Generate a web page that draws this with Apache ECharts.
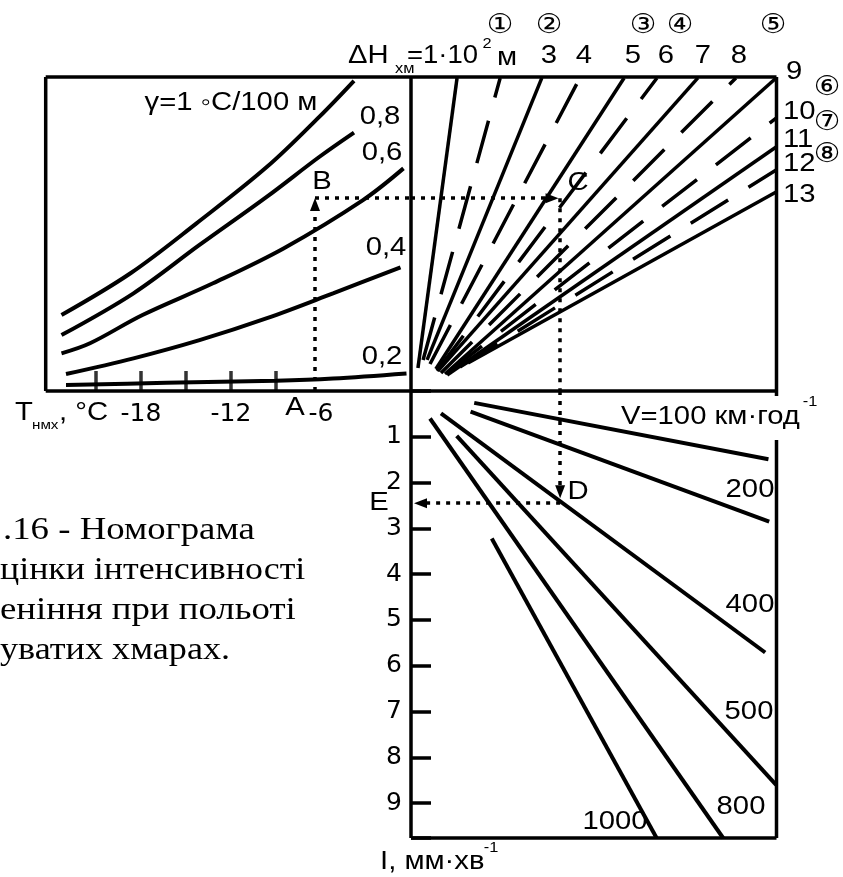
<!DOCTYPE html>
<html>
<head>
<meta charset="utf-8">
<script src="https://cdn.jsdelivr.net/npm/echarts@6/dist/echarts.min.js"></script>
<style>html,body{margin:0;padding:0;background:#fff}#chart{width:843px;height:877px}</style>
</head>
<body>
<div id="chart"></div>
<script>
// ліва панель: температура нижньої межі хмар (°C) та градієнт γ
var tempTicks = [-21, -18, -15, -12, -9];
var tempLabels = [-18, -12, -6];
var gammaNames = ['1', '0,8', '0,6', '0,4', '0,2'];
var gamma10 = [[-23.3, 24.2], [-18.7, 37.5], [-14.3, 53.4], [-9.6, 71.4], [-6.1, 87.4], [-3.8, 98.8]];
var gamma08 = [[-23.3, 17.8], [-18.5, 31.1], [-14.1, 46.5], [-9.6, 61.9], [-6.1, 74.6], [-3.8, 82.3]];
var gamma06 = [[-23.3, 12.0], [-21.4, 15.2], [-17.9, 24.2], [-13.2, 34.3], [-8.5, 45.4], [-3.2, 60.8], [-0.5, 70.9]];
var gamma04 = [[-23.0, 5.4], [-18.5, 10.4], [-14.1, 16.2], [-9.6, 23.2], [-5.2, 31.1], [-0.7, 39.4]];
var gamma02 = [[-23.0, 1.9], [-16.3, 2.6], [-9.0, 3.3], [-5.2, 4.0], [-0.3, 5.6]];

// права верхня панель: товщина хмар ΔH, x100 м (парні - штрихові)
var dhValues = [1, 2, 3, 4, 5, 6, 7, 8, 9, 10, 11, 12, 13];
var dhStart = [[1.9, 7.3], [3.3, 9.9], [4.4, 9.9], [5.2, 8.6], [6.8, 7.0], [7.1, 6.4], [7.4, 6.4],
               [8.2, 5.7], [9.3, 5.4], [9.9, 5.7], [9.9, 5.1], [13.4, 7.6], [15.6, 8.9]];
var dhEnd = [[12.6, 99.7], [24.4, 99.7], [35.8, 99.7], [46.2, 99.7], [58.3, 99.7], [67.3, 99.7], [78.5, 99.7],
             [88.9, 99.7], [99.9, 99.7], [99.9, 86.9], [99.9, 77.7], [99.9, 70.4], [99.9, 63.4]];

// нижня панель: швидкість V, км/год, та інтенсивність I, мм/хв
var vValues = [100, 200, 400, 500, 800, 1000];
var vStart = [[17.3, 0.26], [16.3, 0.45], [8.2, 0.49], [12.5, 0.98], [5.2, 0.60], [22.1, 3.22]];
var vEnd = [[97.8, 1.49], [98.0, 2.85], [96.9, 5.71], [99.9, 8.60], [85.4, 9.76], [67.2, 9.76]];
var iTicks = [1, 2, 3, 4, 5, 6, 7, 8, 9];

// приклад: A -> B -> C -> D -> E
var tA = -6.4, yB = 61.4, xC = 38.6, xCD = 40.8, iD = 2.2, iDE = 2.45, xE = 2.6;

var chart = echarts.init(document.getElementById('chart'));
var F = '"Liberation Sans", "DejaVu Sans", Arial, sans-serif';
var FA = '"DejaVu Sans", "Liberation Sans", sans-serif';
var SERIF = '"Liberation Serif", "DejaVu Serif", serif';

function txt(x, y, s, size, align, font, sx) {
    return {
        type: 'text', x: x, y: y, silent: true, scaleX: sx || 1.17,
        style: {
            text: s, fill: '#000',
            font: size + 'px ' + (font || F),
            textAlign: align || 'center', align: align || 'center',
            textVerticalAlign: 'middle', verticalAlign: 'middle'
        }
    };
}
function seg(x1, y1, x2, y2) {
    return {
        type: 'line', silent: true,
        shape: {x1: x1, y1: y1, x2: x2, y2: y2},
        style: {stroke: '#000', lineWidth: 3.5}
    };
}
function curve(data, xi, w, dash, smooth) {
    return {
        type: 'line', xAxisIndex: xi, yAxisIndex: xi, data: data,
        symbol: 'none', smooth: smooth || false, silent: true, clip: false,
        lineStyle: {color: '#000', width: w, type: dash ? [44, 24] : 'solid'}
    };
}
function dotted(xi, lines) {
    return {
        type: 'line', xAxisIndex: xi, yAxisIndex: xi, data: [], silent: true,
        markLine: {
            silent: true, animation: false,
            symbol: ['none', 'triangle'], symbolSize: [10, 13],
            label: {show: false},
            lineStyle: {color: '#000', width: 3.5, type: [4, 6]},
            emphasis: {disabled: true},
            data: lines
        }
    };
}
function noArrow(c) { return {coord: c, symbol: 'none'}; }

var series = [];
[gamma10, gamma08, gamma06, gamma04, gamma02].forEach(function (d) {
    series.push(curve(d, 0, 4, false, 0.35));
});
series.push({
    type: 'scatter', xAxisIndex: 0, yAxisIndex: 0, silent: true, clip: false,
    data: tempTicks.map(function (t) { return [t, 0]; }),
    symbol: 'rect', symbolSize: [3.5, 20], symbolOffset: [0, -10],
    itemStyle: {color: '#000'}
});
dhValues.forEach(function (v, i) {
    series.push(curve([dhStart[i], dhEnd[i]], 1, 3.5, v % 2 === 0));
});
vValues.forEach(function (v, i) {
    series.push(curve([vStart[i], vEnd[i]], 2, 4, false));
});
series.push(dotted(0, [
    [{coord: [tA, 0]}, {coord: [tA, yB - 2]}],
    [noArrow([tA, yB]), noArrow([0, yB])]
]));
series.push(dotted(1, [
    [{coord: [0, yB]}, {coord: [xC, yB]}],
    [noArrow([xCD, yB]), noArrow([xCD, 0])]
]));
series.push(dotted(2, [
    [{coord: [xCD, 0]}, {coord: [xCD, iD]}],
    [{coord: [xCD, iDE]}, {coord: [xE, iDE]}]
]));

var graphics = [
    // рамки
    seg(45.7, 77, 776.5, 77), seg(45.7, 77, 45.7, 391), seg(45.7, 391, 776.5, 391),
    seg(411, 77, 411, 838), seg(776.5, 77, 776.5, 396), seg(776.5, 440, 776.5, 838),
    seg(411, 838, 776.5, 838),
    // верхній підпис
    txt(348, 56, 'ΔH', 25, 'left'), txt(395, 69, 'хм', 14, 'left'),
    txt(407, 56, '=1·10', 25, 'left', F, 1.1), txt(487, 44, '2', 14), txt(507, 58, 'м', 25),
    txt(549, 56, '3', 25), txt(584, 56, '4', 25), txt(633, 56, '5', 25),
    txt(666, 56, '6', 25), txt(703, 56, '7', 25), txt(739, 56, '8', 25),
    txt(786, 72, '9', 25, 'left'), txt(783, 112, '10', 25, 'left'), txt(783, 140, '11', 25, 'left'),
    txt(783, 164, '12', 25, 'left'), txt(783, 195, '13', 25, 'left'),
    txt(500, 26, '①', 27, 'center', F, 1.1), txt(549, 26, '②', 27, 'center', F, 1.1),
    txt(643, 26, '③', 27, 'center', F, 1.1), txt(680, 26, '④', 27, 'center', F, 1.1),
    txt(773, 26, '⑤', 27, 'center', F, 1.1), txt(827, 88, '⑥', 27, 'center', F, 1.1),
    txt(827, 123, '⑦', 27, 'center', F, 1.1), txt(827, 155, '⑧', 27, 'center', F, 1.1),
    // ліва панель
    txt(231, 103, 'γ=1 ◦C/100 м', 25), txt(380, 117, '0,8', 25), txt(382, 153, '0,6', 25),
    txt(386, 248, '0,4', 25), txt(382, 357, '0,2', 25),
    txt(322, 182, 'B', 25), txt(295, 408, 'A', 25),
    txt(15, 413, 'T', 25, 'left'), txt(32, 425, 'нмх', 13, 'left'), txt(59, 413, ', °C', 25, 'left'),
    // права панель
    txt(578, 183, 'C', 25), txt(578, 492, 'D', 25), txt(379, 503, 'E', 25),
    txt(621, 417, 'V=100 км·год', 25, 'left'), txt(810, 402, '-1', 14),
    txt(380, 862, 'I, мм·хв', 25, 'left'), txt(491, 848, '-1', 14),
    txt(750, 490, '200', 25), txt(750, 605, '400', 25), txt(749, 712, '500', 25),
    txt(741, 807, '800', 25), txt(615, 822, '1000', 25),
    // підпис рисунка
    txt(3, 531, '.16 - Номограма', 32, 'left', SERIF, 1.15),
    txt(0, 571, 'цінки інтенсивності', 32, 'left', SERIF, 1.12),
    txt(0, 611, 'еніння при польоті', 32, 'left', SERIF, 1.15),
    txt(0, 651, 'уватих хмарах.', 32, 'left', SERIF, 1.13)
];

chart.setOption({
    animation: false,
    backgroundColor: '#fff',
    grid: [
        {left: 51, top: 77, width: 360, height: 314},
        {left: 411, top: 77, width: 365.5, height: 314},
        {left: 411, top: 391, width: 365.5, height: 447}
    ],
    xAxis: [
        {
            gridIndex: 0, type: 'value', min: -24, max: 0, interval: 3,
            axisLine: {show: false}, axisTick: {show: false}, splitLine: {show: false},
            axisLabel: {
                margin: 11, fontSize: 25, color: '#000', fontFamily: FA,
                formatter: function (v) { return tempLabels.indexOf(v) >= 0 ? String(v) : ''; }
            }
        },
        {gridIndex: 1, type: 'value', min: 0, max: 100, show: false},
        {gridIndex: 2, type: 'value', min: 0, max: 100, show: false}
    ],
    yAxis: [
        {gridIndex: 0, type: 'value', min: 0, max: 100, show: false},
        {gridIndex: 1, type: 'value', min: 0, max: 100, show: false},
        {
            gridIndex: 2, type: 'value', min: 0, max: 9.76, interval: 1, inverse: true,
            axisLine: {show: false}, splitLine: {show: false},
            axisTick: {show: true, inside: true, length: 20, lineStyle: {color: '#000', width: 3.5}},
            axisLabel: {
                margin: 9, fontSize: 25, color: '#000', fontFamily: FA,
                formatter: function (v) { return iTicks.indexOf(v) >= 0 ? String(v) : ''; }
            }
        }
    ],
    series: series,
    graphic: graphics
});
</script>
</body>
</html>
